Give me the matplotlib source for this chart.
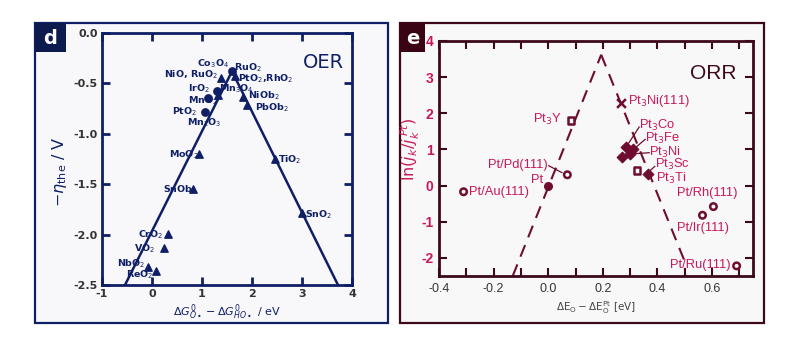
import matplotlib
matplotlib.use("Agg")
import matplotlib.pyplot as plt
from matplotlib.patches import Rectangle

# ---------------- data: OER (panel d) ----------------
oer_line_x = [-0.54, 1.6, 3.72]
oer_line_y = [-2.5, -0.38, -2.5]

oer_tri_x = [1.38, 1.66, 1.32, 1.82, 1.90, 0.94, 2.46, 0.82, 3.00, 0.32, 0.24, -0.08, 0.08]
oer_tri_y = [-0.45, -0.43, -0.62, -0.63, -0.71, -1.20, -1.25, -1.55, -1.79, -1.99, -2.13, -2.32, -2.36]
oer_circ_x = [1.60, 1.30, 1.12, 1.06]
oer_circ_y = [-0.38, -0.58, -0.64, -0.78]

oer_labels = ["Co$_3$O$_4$", "NiO, RuO$_2$", "RuO$_2$", "PtO$_2$,RhO$_2$", "IrO$_2$", "MnO$_2$",
              "Mn$_3$O$_4$", "PtO$_2$", "Mn$_2$O$_3$", "NiOb$_2$", "PbOb$_2$", "MoO$_2$",
              "TiO$_2$", "SnOb$_2$", "SnO$_2$", "CrO$_2$", "VO$_2$", "NbO$_2$", "ReO$_2$"]
oer_lab_x = [0.90, 0.24, 1.64, 1.72, 0.72, 0.72, 1.34, 0.40, 0.70, 1.92, 2.06, 0.34,
             2.52, 0.22, 3.06, -0.28, -0.36, -0.70, -0.52]
oer_lab_y = [-0.31, -0.41, -0.34, -0.45, -0.55, -0.67, -0.55, -0.78, -0.89, -0.62, -0.745, -1.21,
             -1.26, -1.56, -1.80, -2.00, -2.14, -2.29, -2.40]

oer_xticks = [-1, 0, 1, 2, 3, 4]
oer_yticks = [0.0, -0.5, -1.0, -1.5, -2.0, -2.5]

# ---------------- data: ORR (panel e) ----------------
orr_line_left_x = [-0.13, 0.194]
orr_line_left_y = [-2.5, 3.62]
orr_line_right_x = [0.194, 0.50]
orr_line_right_y = [3.62, -2.1]

orr_open_circ_x = [0.07, -0.31, 0.605, 0.565, 0.69]
orr_open_circ_y = [0.30, -0.17, -0.58, -0.82, -2.22]
orr_fill_circ_x = [0.0]
orr_fill_circ_y = [0.0]
orr_open_sq_x = [0.084, 0.325]
orr_open_sq_y = [1.80, 0.42]
orr_diam_x = [0.27, 0.285, 0.31, 0.30, 0.366]
orr_diam_y = [0.80, 1.08, 1.00, 0.88, 0.33]
orr_cross_x = [0.267]
orr_cross_y = [2.28]

orr_labels = ["Pt$_3$Ni(111)", "Pt$_3$Y", "Pt/Pd(111)", "Pt", "Pt/Au(111)", "Pt$_3$Co",
              "Pt$_3$Fe", "Pt$_3$Ni", "Pt$_3$Sc", "Pt$_3$Ti", "Pt/Rh(111)", "Pt/Ir(111)",
              "Pt/Ru(111)"]
orr_lab_x = [0.293, 0.051, 0.00, -0.02, -0.29, 0.333, 0.355, 0.37, 0.39, 0.395, 0.47, 0.473, 0.447]
orr_lab_y = [2.33, 1.83, 0.58, 0.15, -0.17, 1.66, 1.30, 0.93, 0.59, 0.20, -0.21, -1.17, -2.19]
orr_lab_ha = ["left", "right", "right", "right", "left", "left", "left", "left", "left",
              "left", "left", "left", "left"]

orr_xticks = [-0.4, -0.2, 0.0, 0.2, 0.4, 0.6]
orr_xminor = [-0.3, -0.1, 0.1, 0.3, 0.5, 0.7]
orr_yticks = [-2, -1, 0, 1, 2, 3, 4]

# ---------------- styling ----------------
NAVY = "#0f1f66"
MAROON = "#3d0818"
MARK = "#6e0d30"
CRIMSON = "#c8185c"
W, H = 802, 359

fig = plt.figure(figsize=(8.02, 3.59), dpi=100)
fig.patch.set_facecolor("white")

def fx(px):
    return px / W

def fy(py):
    return 1 - py / H

# outer frames
fig.patches.append(Rectangle((fx(35), fy(323)), fx(388) - fx(35), fy(23) - fy(323),
                             transform=fig.transFigure, facecolor="#f8f8fa",
                             edgecolor=NAVY, lw=1.6, zorder=-2))
fig.patches.append(Rectangle((fx(400), fy(323)), fx(764) - fx(400), fy(23) - fy(323),
                             transform=fig.transFigure, facecolor="#f8f8f8",
                             edgecolor=MAROON, lw=1.6, zorder=-2))
# letter boxes
fig.patches.append(Rectangle((fx(35), fy(52)), fx(66) - fx(35), fy(23) - fy(52),
                             transform=fig.transFigure, facecolor="#0d1a4d",
                             edgecolor="none", zorder=1))
fig.text(fx(50.5), fy(38), "d", color="white", fontsize=14, fontweight="bold",
         ha="center", va="center", family="DejaVu Sans")
fig.patches.append(Rectangle((fx(400), fy(52)), fx(425) - fx(400), fy(23) - fy(52),
                             transform=fig.transFigure, facecolor="#3a0414",
                             edgecolor="none", zorder=1))
fig.text(fx(412.5), fy(38), "e", color="white", fontsize=14, fontweight="bold",
         ha="center", va="center", family="DejaVu Sans")

# ---------------- panel d ----------------
axd = fig.add_axes([fx(102), fy(285), fx(352) - fx(102), fy(33) - fy(285)])
axd.set_facecolor("#f8f8fa")
axd.plot(oer_line_x, oer_line_y, color=NAVY, lw=1.8, zorder=2)
axd.scatter(oer_tri_x, oer_tri_y, marker="^", s=28, color=NAVY, zorder=3)
axd.scatter(oer_circ_x, oer_circ_y, marker="o", s=28, color=NAVY, zorder=3)
for t, x, y in zip(oer_labels, oer_lab_x, oer_lab_y):
    axd.text(x, y, t, color=NAVY, fontsize=6.8, fontweight="bold", ha="left", va="center",
             family="DejaVu Sans", zorder=4)
axd.text(3.85, -0.29, "OER", color=NAVY, fontsize=14, ha="right", va="center",
         family="DejaVu Sans")
axd.set_xlim(-1, 4)
axd.set_ylim(-2.5, 0)
axd.set_xticks(oer_xticks)
axd.set_xticklabels([str(v) for v in oer_xticks])
axd.set_yticks(oer_yticks)
axd.set_yticklabels([f"{v:.1f}" for v in oer_yticks])
for s in axd.spines.values():
    s.set_color(NAVY)
    s.set_linewidth(2)
axd.tick_params(direction="in", length=6, width=2, color=NAVY, top=True, right=True,
                labelsize=8, labelcolor="#333333", pad=3)
for lab in axd.get_xticklabels() + axd.get_yticklabels():
    lab.set_fontweight("bold")
axd.set_xlabel(r"$\Delta G^{0}_{O\bullet} - \Delta G^{0}_{HO\bullet}$ / eV", color=NAVY,
               fontsize=8, labelpad=2)
axd.set_ylabel(r"$-\eta_{\rm the}$ / V", color=NAVY, fontsize=11.5)
axd.yaxis.set_label_coords(-0.13, 0.45)

# ---------------- panel e ----------------
axe = fig.add_axes([fx(439), fy(276), fx(753) - fx(439), fy(41) - fy(276)])
axe.set_facecolor("#f8f8f8")
axe.plot(orr_line_left_x, orr_line_left_y, color=MARK, lw=1.5, dashes=(6, 4), zorder=2)
axe.plot(orr_line_right_x, orr_line_right_y, color=MARK, lw=1.5, dashes=(6, 4), zorder=2)
axe.scatter(orr_open_circ_x, orr_open_circ_y, marker="o", s=22, facecolor="none",
            edgecolor=MARK, linewidths=1.8, zorder=3)
axe.scatter(orr_fill_circ_x, orr_fill_circ_y, marker="o", s=30, color=MARK, zorder=3)
axe.scatter(orr_open_sq_x, orr_open_sq_y, marker="s", s=22, facecolor="none",
            edgecolor=MARK, linewidths=1.8, zorder=3)
axe.scatter(orr_diam_x, orr_diam_y, marker="D", s=28, color=MARK, zorder=3)
axe.scatter(orr_cross_x, orr_cross_y, marker="x", s=40, color=MARK, linewidths=1.8, zorder=3)

lab_font = ["Liberation Sans Narrow", "Liberation Sans", "DejaVu Sans"]
for t, x, y, ha in zip(orr_labels, orr_lab_x, orr_lab_y, orr_lab_ha):
    axe.text(x, y, t, color=CRIMSON, fontsize=9.3, ha=ha, va="center", family=lab_font,
             zorder=4)

# leader lines
leaders = [((0.002, 0.55), (0.05, 0.36)),
           ((0.333, 1.62), (0.29, 1.12)),
           ((0.355, 1.28), (0.315, 1.02)),
           ((0.37, 0.91), (0.31, 0.88)),
           ((0.39, 0.53), (0.365, 0.36))]
for (x1, y1), (x2, y2) in leaders:
    axe.plot([x1, x2], [y1, y2], color=MARK, lw=0.9, zorder=2)

axe.text(0.69, 3.1, "ORR", color=MAROON, fontsize=15, ha="right", va="center",
         family=["Liberation Sans", "DejaVu Sans"])
axe.set_xlim(-0.4, 0.75)
axe.set_ylim(-2.5, 4)
axe.set_xticks(orr_xticks)
axe.set_xticklabels([f"{v:.1f}" for v in orr_xticks])
axe.set_xticks(orr_xminor, minor=True)
axe.set_yticks(orr_yticks)
axe.set_yticklabels([str(v) for v in orr_yticks])
for s in axe.spines.values():
    s.set_color(MAROON)
    s.set_linewidth(2)
axe.tick_params(which="both", direction="in", length=6, width=1.5, color=MAROON,
                top=True, right=True)
axe.tick_params(axis="x", labelsize=9, labelcolor="#333333", pad=5)
axe.tick_params(axis="y", labelsize=10, labelcolor=CRIMSON, pad=4)
for lab in axe.get_xticklabels() + axe.get_yticklabels():
    lab.set_family(["Liberation Sans", "DejaVu Sans"])
for lab in axe.get_yticklabels():
    lab.set_fontweight("bold")
axe.set_xlabel(r"$\Delta \mathrm{E_O} - \Delta \mathrm{E_O^{Pt}}$ [eV]", color="#444444",
               fontsize=7.5, labelpad=3)
axe.set_ylabel(r"$\ln(j_k/j_k^{\,Pt})$", color=CRIMSON, fontsize=11.5)
axe.yaxis.set_label_coords(-0.055, 0.54)

fig.savefig("out.png", dpi=100, facecolor="white")
